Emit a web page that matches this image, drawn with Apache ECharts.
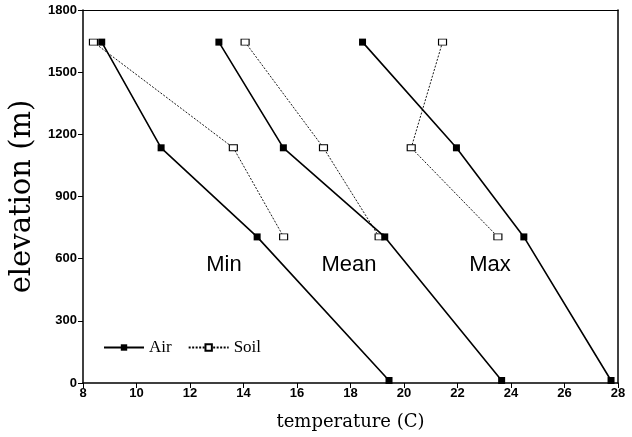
<!DOCTYPE html>
<html>
<head>
<meta charset="utf-8">
<script src="https://cdn.jsdelivr.net/npm/echarts@6/dist/echarts.min.js"></script>
<style>
  html, body { margin: 0; padding: 0; background: #fff; }
  #chart { width: 632px; height: 437px; }
</style>
</head>
<body>
<div id="chart"></div>
<script>
// Elevation of the four stations (m)
const elevations = [1645, 1135, 705, 12];

// Air temperature (C) at each elevation
const airMin  = [8.7, 10.92, 14.51, 19.44];
const airMean = [13.08, 15.49, 19.28, 23.65];
const airMax  = [18.45, 21.96, 24.48, 27.74];

// Soil temperature (C); no soil reading at the lowest station
const soilMin  = [8.39, 13.62, 15.5];
const soilMean = [14.06, 16.99, 19.07];
const soilMax  = [21.44, 20.27, 23.51];

const xTicks = [8, 10, 12, 14, 16, 18, 20, 22, 24, 26, 28];
const yTicks = [0, 300, 600, 900, 1200, 1500, 1800];
const groupLabels = ['Min', 'Mean', 'Max'];

function pairs(temps) {
  return temps.map((t, i) => [t, elevations[i]]);
}

const airStyle = {
  type: 'line',
  name: 'Air',
  symbol: 'rect',
  symbolSize: 7,
  itemStyle: { color: '#000', borderColor: '#000', borderWidth: 0 },
  lineStyle: { color: '#000', width: 1.6, type: 'solid' },
  animation: false,
  z: 3
};
const soilStyle = {
  type: 'line',
  name: 'Soil',
  symbol: 'rect',
  symbolSize: [8, 6],
  itemStyle: { color: '#fff', borderColor: '#000', borderWidth: 1 },
  lineStyle: { color: '#000', width: 0.9, type: [2, 1.5] },
  animation: false,
  z: 2
};

const tickFont = {
  fontFamily: 'Liberation Sans Narrow, Liberation Sans, Arial',
  fontWeight: 'bold',
  fontSize: 13,
  color: '#000',
  formatter: v => String(v)
};

const chart = echarts.init(document.getElementById('chart'), null, { renderer: 'canvas' });

const series = [
  Object.assign({}, airStyle, { data: pairs(airMin) }),
  Object.assign({}, airStyle, { data: pairs(airMean) }),
  Object.assign({}, airStyle, { data: pairs(airMax) }),
  Object.assign({}, soilStyle, { data: pairs(soilMin) }),
  Object.assign({}, soilStyle, { data: pairs(soilMean) }),
  Object.assign({}, soilStyle, { data: pairs(soilMax) })
];

const labelX = [224, 349, 490];

chart.setOption({
  backgroundColor: '#fff',
  animation: false,
  grid: { left: 77, right: 14, top: 10, bottom: 54 },
  legend: {
    data: ['Air', 'Soil'],
    left: 98,
    top: 334,
    itemWidth: 40,
    itemHeight: 8,
    itemGap: 16,
    textStyle: { fontFamily: 'Liberation Serif, serif', fontSize: 17, color: '#000' }
  },
  xAxis: [{
    type: 'value',
    min: xTicks[0],
    max: xTicks[xTicks.length - 1],
    interval: 2,
    name: 'temperature (C)',
    nameLocation: 'middle',
    nameGap: 30,
    nameTextStyle: { fontFamily: 'DejaVu Serif, serif', fontSize: 18, color: '#000' },
    axisLine: { lineStyle: { color: '#000', width: 1.5 } },
    axisTick: { inside: false, length: 5, lineStyle: { color: '#000' } },
    axisLabel: Object.assign({ margin: 4 }, tickFont),
    splitLine: { show: false }
  }, {
    type: 'value',
    position: 'top',
    min: xTicks[0],
    max: xTicks[xTicks.length - 1],
    axisLine: { show: true, onZero: false, lineStyle: { color: '#000', width: 1.2 } },
    axisTick: { show: false },
    axisLabel: { show: false },
    splitLine: { show: false }
  }],
  yAxis: [{
    type: 'value',
    min: yTicks[0],
    max: yTicks[yTicks.length - 1],
    interval: 300,
    name: 'elevation (m)',
    nameLocation: 'middle',
    nameGap: 46,
    nameTextStyle: { fontFamily: 'DejaVu Serif, serif', fontSize: 29, color: '#000' },
    axisLine: { show: true, lineStyle: { color: '#000', width: 1.5 } },
    axisTick: { show: true, inside: false, length: 5, lineStyle: { color: '#000' } },
    axisLabel: Object.assign({ margin: 6 }, tickFont),
    splitLine: { show: false }
  }, {
    type: 'value',
    position: 'right',
    min: yTicks[0],
    max: yTicks[yTicks.length - 1],
    axisLine: { show: true, onZero: false, lineStyle: { color: '#000', width: 1.5 } },
    axisTick: { show: false },
    axisLabel: { show: false },
    splitLine: { show: false }
  }],
  series: series,
  graphic: groupLabels.map((txt, i) => ({
    type: 'text',
    x: labelX[i],
    y: 254,
    style: {
      text: txt,
      fill: '#000',
      font: '22px "Liberation Sans", Arial, sans-serif',
      textAlign: 'center',
      textVerticalAlign: 'top'
    }
  }))
});
</script>
</body>
</html>
